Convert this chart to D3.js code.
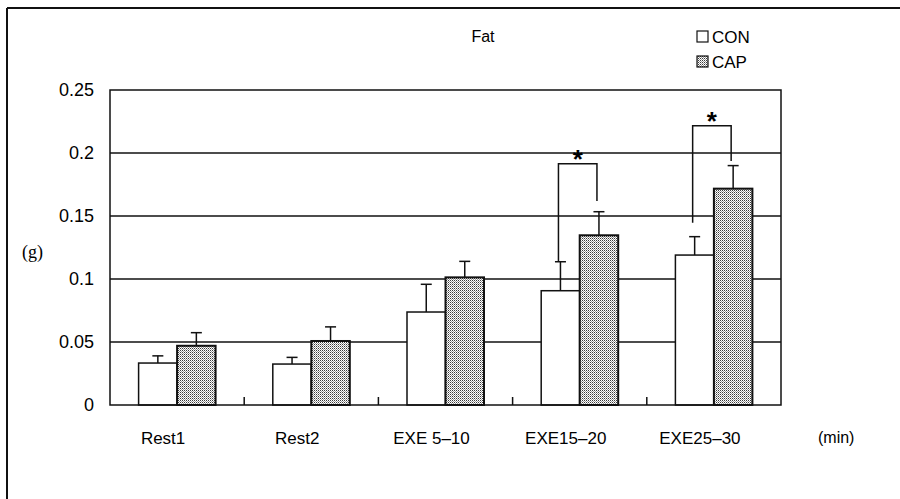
<!DOCTYPE html>
<html>
<head>
<meta charset="utf-8">
<script src="https://cdn.jsdelivr.net/npm/d3@7/dist/d3.min.js"></script>
<style>
  html, body { margin: 0; padding: 0; background: #fff; }
  svg { display: block; }
</style>
</head>
<body>
<svg id="chart" width="900" height="499"></svg>
<script>
// Fat oxidation per period (g), mean + SD, control vs capsaicin
const categories = ["Rest1", "Rest2", "EXE 5-10", "EXE15-20", "EXE25-30"];
const seriesNames = ["CON", "CAP"];
const conMean = [0.0333, 0.0325, 0.0738, 0.0907, 0.119];
const conSD   = [0.0057, 0.0053, 0.0220, 0.0230, 0.0146];
const capMean = [0.047, 0.0508, 0.1013, 0.1347, 0.1717];
const capSD   = [0.0104, 0.0112, 0.0127, 0.0187, 0.0183];
const yTicks  = [0, 0.05, 0.1, 0.15, 0.2, 0.25];
const yTickLabels = ["0", "0.05", "0.1", "0.15", "0.2", "0.25"];
// significance brackets: category, bracket top, left leg end, right leg end
const sigCategories = ["EXE15-20", "EXE25-30"];
const sigTop   = [0.1915, 0.2217];
const sigLeft  = [0.1137, 0.1447];
const sigRight = [0.1620, 0.1937];

const svg = d3.select("#chart");
const m = { left: 110, right: 781, top: 90, bottom: 405 };

// stippled fill for the CAP bars
const defs = svg.append("defs");
const pat = defs.append("pattern")
  .attr("id", "stipple").attr("patternUnits", "userSpaceOnUse")
  .attr("width", 2).attr("height", 2);
pat.append("rect").attr("width", 2).attr("height", 2).attr("fill", "#fff");
pat.append("rect").attr("x", 0).attr("y", 0).attr("width", 1).attr("height", 1).attr("fill", "#3a3a3a");
pat.append("rect").attr("x", 1).attr("y", 1).attr("width", 1).attr("height", 1).attr("fill", "#9a9a9a");

// outer frame (top and left edges)
svg.append("line").attr("x1", 7).attr("x2", 900).attr("y1", 8).attr("y2", 8)
  .attr("stroke", "#111").attr("stroke-width", 2);
svg.append("line").attr("x1", 7).attr("x2", 7).attr("y1", 8).attr("y2", 499)
  .attr("stroke", "#111").attr("stroke-width", 2);

const x = d3.scaleBand().domain(categories).range([m.left, m.right]).paddingInner(0).paddingOuter(0);
const y = d3.scaleLinear().domain([0, 0.25]).range([m.bottom, m.top]);
const barW = 38.5;

const font = "'Liberation Sans', Arial, sans-serif";

// horizontal gridlines
svg.append("g").selectAll("line").data(yTicks.filter(v => v > 0 && v < 0.25)).join("line")
  .attr("x1", m.left).attr("x2", m.right)
  .attr("y1", d => y(d)).attr("y2", d => y(d))
  .attr("stroke", "#111").attr("stroke-width", 1.5);

// y axis labels
const yAxis = d3.axisLeft(y).tickValues(yTicks).tickSize(0).tickPadding(16)
  .tickFormat((d, i) => yTickLabels[i]);
const gy = svg.append("g").attr("transform", `translate(${m.left},0)`).call(yAxis);
gy.select(".domain").remove();
gy.selectAll("text").attr("font-family", font).attr("font-size", 18).attr("fill", "#000");

// category separators on the baseline
svg.append("g").selectAll("line").data(categories.slice(1)).join("line")
  .attr("x1", d => x(d)).attr("x2", d => x(d))
  .attr("y1", m.bottom).attr("y2", m.bottom - 8)
  .attr("stroke", "#111").attr("stroke-width", 1.5);

// bars
const groups = categories.map((c, i) => ({ c, con: conMean[i], conSD: conSD[i], cap: capMean[i], capSD: capSD[i] }));
const cx = c => x(c) + x.bandwidth() / 2;

const drawErr = (g, xc, v, sd) => {
  g.append("line").attr("x1", xc).attr("x2", xc).attr("y1", y(v)).attr("y2", y(v + sd))
    .attr("stroke", "#111").attr("stroke-width", 1.5);
  g.append("line").attr("x1", xc - 5.5).attr("x2", xc + 5.5).attr("y1", y(v + sd)).attr("y2", y(v + sd))
    .attr("stroke", "#111").attr("stroke-width", 1.5);
};

const gb = svg.append("g");
groups.forEach(d => {
  const c = cx(d.c);
  gb.append("rect").attr("x", c - barW).attr("y", y(d.con)).attr("width", barW).attr("height", y(0) - y(d.con))
    .attr("fill", "#fff").attr("stroke", "#111").attr("stroke-width", 1.5);
  gb.append("rect").attr("x", c).attr("y", y(d.cap)).attr("width", barW).attr("height", y(0) - y(d.cap))
    .attr("fill", "url(#stipple)").attr("stroke", "#111").attr("stroke-width", 2);
  drawErr(gb, c - barW / 2, d.con, d.conSD);
  drawErr(gb, c + barW / 2, d.cap, d.capSD);
});

// plot frame
svg.append("rect").attr("x", m.left).attr("y", m.top)
  .attr("width", m.right - m.left).attr("height", m.bottom - m.top)
  .attr("fill", "none").attr("stroke", "#111").attr("stroke-width", 1.5);

// significance brackets
sigCategories.forEach((c, i) => {
  const xl = cx(c) - barW / 2 - 2, xr = cx(c) + barW / 2 - 2;
  svg.append("path")
    .attr("d", `M${xl},${y(sigLeft[i])}V${y(sigTop[i])}H${xr}V${y(sigRight[i])}`)
    .attr("fill", "none").attr("stroke", "#111").attr("stroke-width", 1.5);
  svg.append("text").attr("x", (xl + xr) / 2).attr("y", y(sigTop[i]) + 4)
    .attr("text-anchor", "middle").attr("font-family", font).attr("font-weight", "bold")
    .attr("font-size", 26).text("*");
});

// x axis labels (set slightly left of the group centre)
svg.append("g").selectAll("text").data(categories).join("text")
  .attr("x", d => cx(d)).attr("dx", -14).attr("y", 444)
  .attr("text-anchor", "middle").attr("font-family", font).attr("font-size", 17)
  .text(d => d.replace(/-/g, "\u2013"));

// units
svg.append("text").attr("x", 818).attr("y", 443).attr("font-family", font).attr("font-size", 16).text("(min)");
svg.append("text").attr("x", 22).attr("y", 258).attr("font-family", "'Liberation Serif', serif").attr("font-size", 18).text("(g)");

// title
svg.append("text").attr("x", 483).attr("y", 42).attr("text-anchor", "middle")
  .attr("font-family", font).attr("font-size", 16).text("Fat");

// legend
const legY = [36.5, 61.5];
seriesNames.forEach((s, i) => {
  svg.append("rect").attr("x", 697).attr("y", legY[i] - 5.5).attr("width", 11).attr("height", 11)
    .attr("fill", i === 0 ? "#fff" : "url(#stipple)").attr("stroke", "#111").attr("stroke-width", 1.2);
  svg.append("text").attr("x", 712).attr("y", legY[i] + 6).attr("font-family", font).attr("font-size", 17).text(s);
});
</script>
</body>
</html>
